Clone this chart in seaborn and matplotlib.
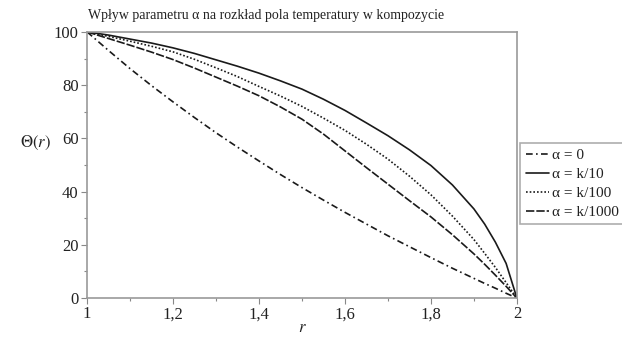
import numpy as np
import pandas as pd
import matplotlib
matplotlib.use("Agg")
import matplotlib.pyplot as plt
from matplotlib.ticker import MultipleLocator, FixedLocator
import seaborn as sns

# --- valeurs ---
r_vals = [1.0, 1.05, 1.1, 1.15, 1.2, 1.25, 1.3, 1.35, 1.4, 1.45, 1.5, 1.55, 1.6,
          1.65, 1.7, 1.75, 1.8, 1.85, 1.9, 1.925, 1.95, 1.975, 2.0]
theta_a0 = [100, 93.0, 86.2, 79.8, 73.7, 67.8, 62.1, 56.7, 51.5, 46.4, 41.5, 36.8,
            32.2, 27.8, 23.4, 19.3, 15.2, 11.2, 7.4, 5.5, 3.7, 1.8, 0]
theta_k10 = [100, 98.8, 97.3, 95.8, 94.0, 91.9, 89.5, 87.1, 84.5, 81.6, 78.5, 74.7,
             70.5, 65.8, 61.0, 55.7, 49.8, 42.5, 33.5, 27.8, 21.0, 13.0, 0]
theta_k100 = [100, 98.3, 96.5, 94.6, 92.5, 89.7, 86.5, 83.2, 79.5, 75.9, 72.0, 67.6,
              63.0, 57.8, 52.2, 45.8, 38.8, 30.8, 22.0, 16.8, 11.5, 5.8, 0]
theta_k1000 = [100, 97.5, 95.0, 92.4, 89.6, 86.4, 83.0, 79.6, 76.0, 71.8, 67.2, 61.6,
               55.3, 49.0, 42.8, 36.6, 30.5, 23.8, 16.6, 12.7, 8.6, 4.4, 0]

labels = ["α = 0", "α = k/10", "α = k/100", "α = k/1000"]
series = [theta_a0, theta_k10, theta_k100, theta_k1000]
styles = [(0, (4, 2, 1, 2)), "-", (0, (1, 1.2)), (0, (5, 1.2))]

x_ticks = [1.0, 1.2, 1.4, 1.6, 1.8, 2.0]
x_ticklabels = ["1", "1,2", "1,4", "1,6", "1,8", "2"]
y_ticks = [0, 20, 40, 60, 80, 100]

sns.set_style("ticks")
plt.rcParams["font.family"] = ["Liberation Serif", "DejaVu Serif"]
plt.rcParams["mathtext.fontset"] = "stix"

fig = plt.figure(figsize=(6.22, 3.43), dpi=100)
ax = fig.add_axes([0.14, 0.131, 0.691, 0.776])

# une courbe par valeur de alpha
for lab, vals, ls in zip(labels, series, styles):
    df = pd.DataFrame({"r": r_vals, "theta": vals})
    sns.lineplot(data=df, x="r", y="theta", ax=ax, color="#1a1a1a",
                 linestyle=ls, linewidth=1.2, label=lab)

ax.set_xlim(1, 2)
ax.set_ylim(0, 100)
ax.xaxis.set_major_locator(FixedLocator(x_ticks))
ax.set_xticklabels(x_ticklabels)
ax.xaxis.set_minor_locator(MultipleLocator(0.1))
ax.yaxis.set_major_locator(FixedLocator(y_ticks))
ax.yaxis.set_minor_locator(MultipleLocator(10))
ax.tick_params(which="major", direction="out", length=4, width=0.8,
               color="#888888", labelsize=12, labelcolor="#222222", pad=2)
ax.tick_params(which="minor", direction="out", length=2, width=0.8, color="#888888")
for s in ax.spines.values():
    s.set_visible(True)
    s.set_color("#999999")
    s.set_linewidth(1.2)

ax.set_xlabel("")
ax.set_ylabel("")
ax.text(0.5, -0.112, "$r$", ha="center", va="center", fontsize=12,
        color="#222222", transform=ax.transAxes)
fig.text(0.057, 0.583, r"$\Theta(r)$", ha="center", va="center", fontsize=12, color="#222222")
fig.text(0.428, 0.955, "Wpływ parametru α na rozkład pola temperatury w kompozycie",
         ha="center", va="center", fontsize=10, color="#222222")

leg = ax.legend(loc="center left", bbox_to_anchor=(1.008, 0.43), frameon=True,
                fancybox=False, edgecolor="#999999", fontsize=11,
                handlelength=1.5, handletextpad=0.25, borderpad=0.35,
                labelspacing=0.35, borderaxespad=0)
leg.get_frame().set_linewidth(1.2)
for t in leg.get_texts():
    t.set_color("#222222")

fig.savefig("out.png", dpi=100)
